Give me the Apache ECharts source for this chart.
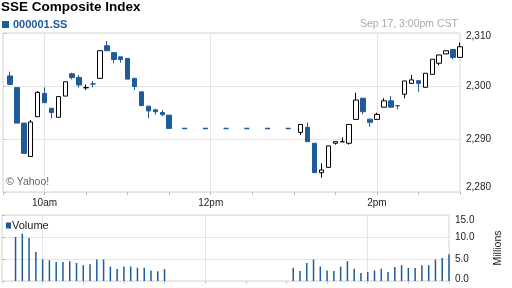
<!DOCTYPE html>
<html><head><meta charset="utf-8">
<script src="https://cdn.jsdelivr.net/npm/echarts@6/dist/echarts.min.js"></script>
<style>html,body{margin:0;padding:0;background:#fff}#c{width:512px;height:288px}</style>
</head><body><div id="c"></div>
<script>
// ---- data ----
const amTimes = ['09:35','09:40','09:45','09:50','09:55','10:00','10:05','10:10','10:15','10:20','10:25','10:30','10:35','10:40','10:45','10:50','10:55','11:00','11:05','11:10','11:15','11:20','11:25','11:30'];
const amOpen  = [2301.9,2299.7,2293.0,2286.7,2294.2,2298.6,2295.8,2294.1,2298.1,2302.3,2301.6,2299.65,2300.40,2301.45,2307.6,2306.3,2305.5,2305.2,2301.45,2298.9,2296.2,2295.5,2295.0,2294.5];
const amClose = [2300.3,2293.0,2287.3,2293.2,2298.8,2296.85,2295.0,2298.0,2300.8,2301.6,2300.2,2299.7,2300.36,2306.65,2306.65,2305.0,2305.0,2301.3,2299.9,2296.3,2295.3,2295.15,2294.6,2292.0];
const amLow   = [2300.3,2293.0,2287.3,2286.7,2294.2,2296.85,2293.9,2294.1,2298.1,2301.25,2299.75,2299.25,2299.75,2301.45,2306.65,2304.3,2304.4,2301.3,2299.25,2296.3,2293.9,2294.6,2294.3,2292.0];
const amHigh  = [2302.7,2299.7,2293.0,2293.6,2299.05,2299.75,2295.8,2298.0,2300.8,2302.5,2302.1,2300.3,2300.95,2306.65,2308.5,2306.3,2305.5,2305.2,2301.45,2298.9,2296.2,2295.65,2295.45,2294.5];
const amVolume = [null,10.0,10.75,9.8,6.6,4.9,4.7,4.3,4.3,4.5,4.1,3.6,3.8,4.9,4.9,3.3,2.7,3.3,3.3,3.0,3.0,2.4,2.2,2.7];

const pmTimes = ['13:05','13:10','13:15','13:20','13:25','13:30','13:35','13:40','13:45','13:50','13:55','14:00','14:05','14:10','14:15','14:20','14:25','14:30','14:35','14:40','14:45','14:50','14:55','15:00'];
const pmOpen  = [2291.25,2292.2,2289.2,2283.65,2284.65,2289.2,2289.46,2289.2,2293.7,2297.7,2293.75,2293.7,2296.0,2297.2,2296.30,2298.45,2300.5,2301.0,2299.75,2302.2,2304.3,2306.05,2306.9,2305.4];
const pmClose = [2292.75,2289.5,2283.65,2284.15,2288.7,2289.5,2289.50,2292.75,2297.35,2295.15,2293.15,2294.65,2297.2,2296.0,2296.26,2300.95,2301.15,2300.5,2302.4,2305.05,2305.85,2306.65,2305.4,2307.4];
const pmLow   = [2290.75,2289.5,2283.65,2282.7,2284.65,2288.95,2289.46,2288.95,2293.7,2294.65,2292.3,2293.7,2296.0,2296.0,2295.6,2297.7,2300.5,2298.9,2299.75,2302.2,2303.95,2306.05,2305.05,2305.4];
const pmHigh  = [2292.75,2293.1,2289.2,2285.4,2288.7,2289.5,2290.3,2292.75,2298.75,2297.7,2293.75,2294.95,2297.7,2298.1,2296.30,2300.95,2302.1,2301.0,2302.4,2305.05,2305.85,2306.65,2306.9,2308.2];
const pmVolume = [2.95,2.3,4.1,4.9,3.3,2.4,2.3,3.3,4.5,2.8,1.8,2.05,2.4,2.8,2.05,3.2,3.6,2.95,2.95,3.6,3.6,4.9,5.2,6.1];

const lunchTimes = ['11:30','13:00'];
const axisStart = '09:30', axisEnd = '15:00';
const tickTimes = ['10:00','12:00','14:00'];
const tickLabels = ['10am','12pm','2pm'];
const priceTicks = [2280, 2290, 2300, 2310];
const volumeTicks = [0, 5, 10, 15];

// ---- build ----
const FONT = 'Liberation Sans, Arial, Helvetica, sans-serif';
const BLUE = '#1f5b99';
function toMin(t){ const p=t.split(':'); return (+p[0])*60 + (+p[1]) - 570; }
const times = amTimes.concat(pmTimes);
const O = amOpen.concat(pmOpen), C = amClose.concat(pmClose), L = amLow.concat(pmLow), H = amHigh.concat(pmHigh);
const V = amVolume.concat(pmVolume);
const candles = times.map((t,i)=>[toMin(t), O[i], C[i], L[i], H[i]]);
const vols = [];
times.forEach((t,i)=>{ if (V[i]!=null) vols.push([toMin(t), V[i]]); });
const lunchVal = amClose[amClose.length-1];
const lunchLine = lunchTimes.map(t=>[toMin(t), lunchVal]);
const tickMap = {}; tickTimes.forEach((t,i)=>tickMap[toMin(t)] = tickLabels[i]);
const xMin = toMin(axisStart), xMax = toMin(axisEnd);
function fmtPrice(v){ return String(v).replace(/(\d)(\d{3})$/,'$1,$2'); }

const chart = echarts.init(document.getElementById('c'), null, {renderer:'canvas'});
const xSplit = ['rgba(0,0,0,0)','#e2e2ea','rgba(0,0,0,0)','rgba(0,0,0,0)'];
chart.setOption({
  animation:false,
  backgroundColor:'#fff',
  textStyle:{fontFamily:FONT},
  title:[
    {text:'SSE Composite Index', left:1, top:0, padding:0, textStyle:{fontSize:13.5, fontWeight:'bold', color:'#000', fontFamily:FONT}},
    {text:'{sq|}{t|000001.SS}', left:2, top:19, padding:0, textStyle:{rich:{sq:{width:7,height:7,backgroundColor:BLUE}, t:{fontSize:11,fontWeight:'bold',color:BLUE,fontFamily:FONT,padding:[0,0,0,4]}}}},
    {text:'Sep 17, 3:00pm CST', right:54, top:19, padding:0, textStyle:{fontSize:10.5, fontWeight:'normal', color:'#aaa', fontFamily:FONT}},
    {text:'© Yahoo!', left:6, top:177, padding:0, textStyle:{fontSize:10.5, fontWeight:'normal', color:'#666', fontFamily:FONT}},
    {text:'{sq|}{t|Volume}', left:6, top:220, padding:0, textStyle:{rich:{sq:{width:5,height:6,backgroundColor:BLUE}, t:{fontSize:11,fontWeight:'normal',color:'#222',fontFamily:FONT,padding:[0,0,0,1]}}}}
  ],
  grid:[
    {left:2, top:33, width:458, height:159, show:true, borderColor:'#d4d4d4', borderWidth:1, backgroundColor:'#fff'},
    {left:2, top:215, width:458, height:66, show:true, borderColor:'#d4d4d4', borderWidth:1, backgroundColor:'#fff'}
  ],
  xAxis:[
    {gridIndex:0, type:'value', min:xMin, max:xMax, interval:30,
     axisLine:{show:false}, axisTick:{show:true, length:3, lineStyle:{color:'#bbb'}},
     splitLine:{show:true, lineStyle:{color:xSplit, width:1}},
     axisLabel:{margin:6, fontSize:10, color:'#222', fontFamily:FONT, formatter:v=>tickMap[v]||''}},
    {gridIndex:1, type:'value', min:xMin, max:xMax, interval:30,
     axisLine:{show:false}, axisTick:{show:true, length:3, lineStyle:{color:'#ccc'}},
     splitLine:{show:true, lineStyle:{color:xSplit, width:1}},
     axisLabel:{show:false}}
  ],
  yAxis:[
    {gridIndex:0, type:'value', position:'right', min:priceTicks[0], max:priceTicks[priceTicks.length-1], interval:priceTicks[1]-priceTicks[0],
     axisLine:{show:false}, axisTick:{show:true, length:3, lineStyle:{color:'#bbb'}},
     splitLine:{lineStyle:{color:'#e4e4e4'}},
     axisLabel:{margin:6, fontSize:10, color:'#222', fontFamily:FONT,
       formatter:v=>{const s=fmtPrice(v); if(v===priceTicks[priceTicks.length-1]) return '{t|'+s+'}'; if(v===priceTicks[0]) return '{b|'+s+'}'; return s;},
       rich:{t:{padding:[7,0,0,0],fontSize:10,color:'#222',fontFamily:FONT}, b:{padding:[0,0,10,0],fontSize:10,color:'#222',fontFamily:FONT}}}},
    {gridIndex:1, type:'value', position:'right', min:volumeTicks[0], max:volumeTicks[volumeTicks.length-1], interval:volumeTicks[1]-volumeTicks[0],
     name:'Millions', nameLocation:'middle', nameGap:44, nameRotate:90, nameTextStyle:{fontSize:10.5, color:'#222', fontFamily:FONT},
     axisLine:{show:false}, axisTick:{show:true, length:3, lineStyle:{color:'#bbb'}},
     splitLine:{lineStyle:{color:'#e4e4e4'}},
     axisLabel:{margin:6, fontSize:10, color:'#222', fontFamily:FONT,
       formatter:v=>{const s=v.toFixed(1); if(v===volumeTicks[volumeTicks.length-1]) return '{t|'+s+'}'; if(v===volumeTicks[0]) return '{b|'+s+'}'; return s;},
       rich:{t:{padding:[10,0,0,0],fontSize:10,color:'#222',fontFamily:FONT}, b:{padding:[0,0,3,0],fontSize:10,color:'#222',fontFamily:FONT}}}}
  ],
  series:[
    {type:'line', xAxisIndex:0, yAxisIndex:0, data:lunchLine, symbol:'none', silent:true,
     lineStyle:{color:BLUE, width:1.5, type:[5,15.7], dashOffset:7.7}},
    {type:'candlestick', name:'000001.SS', xAxisIndex:0, yAxisIndex:0, data:candles, encode:{x:0, y:[1,2,3,4]},
     barWidth:5, clip:false,
     itemStyle:{color:'#fff', color0:BLUE, borderColor:'#000', borderColor0:BLUE, borderWidth:1}},
    {type:'bar', name:'Volume', xAxisIndex:1, yAxisIndex:1, data:vols, barWidth:1.5, itemStyle:{color:BLUE}}
  ]
});
</script>
</body></html>
